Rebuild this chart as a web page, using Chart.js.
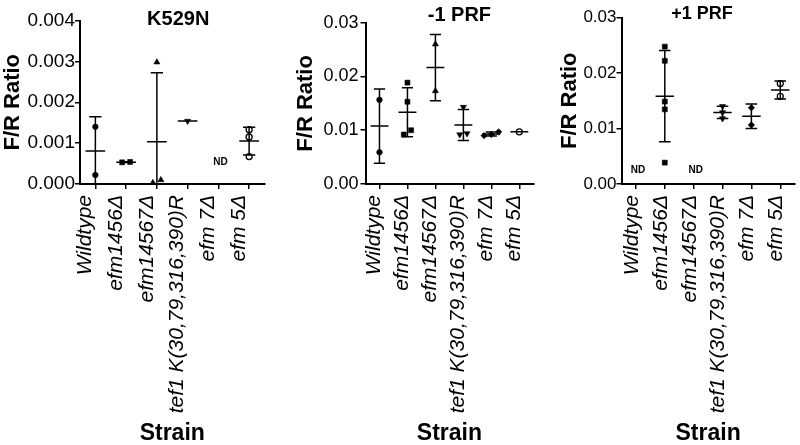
<!DOCTYPE html>
<html>
<head>
<meta charset="utf-8">
<script src="https://cdn.jsdelivr.net/npm/chart.js@4.4.1/dist/chart.umd.min.js"></script>
<style>
html,body{margin:0;padding:0;background:#fff;}
#wrap{position:relative;width:800px;height:445px;overflow:hidden;background:#fff;}
canvas{position:absolute;top:0;}
</style>
</head>
<body>
<div id="wrap">
<canvas id="c1" width="270" height="445" style="left:0px"></canvas>
<canvas id="c2" width="270" height="445" style="left:270px"></canvas>
<canvas id="c3" width="265" height="445" style="left:535px"></canvas>
</div>
<script>
// ---------- DATA ----------
const categories = ['Wildtype', 'efm1456Δ', 'efm14567Δ', 'tef1 K(30,79,316,390)R', 'efm 7Δ', 'efm 5Δ'];
const panelTitles = ['K529N', '-1 PRF', '+1 PRF'];
const yMaxes = [0.004, 0.03, 0.03];
const yStep = [0.001, 0.01, 0.01];

// F/R ratio replicate values per strain (empty = ND)
const k529nValues = [
  [0.00140, 0.00022],
  [0.00053, 0.00054],
  [0.00298, 0.00003, 0.00010],
  [0.00154],
  [],
  [0.00133, 0.00115, 0.00067]
];
const minus1Values = [
  [0.01565, 0.00590],
  [0.01885, 0.01530, 0.01000, 0.00920],
  [0.02600, 0.01730],
  [0.01430, 0.00940, 0.00920],
  [0.00970, 0.00900, 0.00920],
  [0.00970]
];
const plus1Values = [
  [],
  [0.02475, 0.02220, 0.01485, 0.01345, 0.00385],
  [],
  [0.01400, 0.01290, 0.01180],
  [0.01375, 0.01063],
  [0.01810, 0.01580]
];

// ---------- STYLE ----------
const FONT = '"Liberation Sans", Arial, Helvetica, sans-serif';
Chart.defaults.font.family = FONT;
Chart.defaults.color = '#000';

const MARKERS = [
  {style: 'circle',   rot: 0,   r: 2.8, fill: '#000'},
  {style: 'rect',     rot: 0,   r: 3.5, fill: '#000'},
  {style: 'triangle', rot: 0,   r: 3.5, fill: '#000'},
  {style: 'triangle', rot: 180, r: 3.5, fill: '#000'},
  {style: 'rectRot',  rot: 0,   r: 3.2, fill: '#000'},
  {style: 'circle',   rot: 0,   r: 3.0, fill: '#fff'}
];

const layouts = [
  {id: 'c1', yWidth: 80,   top: 20.5, right: 5.5, tickSize: 19, tickPad: 0, ytPad: 1.5,  titleDx: 6,  titleY: 19,   titleSize: 20, labelOffset: -10, ndDx: 2, ndRise: 22},
  {id: 'c2', yWidth: 95.5, top: 22.7, right: 6.7, tickSize: 18, tickPad: 2, ytPad: 24.5, titleDx: 10, titleY: 15.5, titleSize: 20, labelOffset: -5,  ndDx: 0, ndRise: 13},
  {id: 'c3', yWidth: 86.5, top: 17.5, right: 2.6, tickSize: 17, tickPad: 0, ytPad: 23.5, titleDx: -6, titleY: 14.3, titleSize: 18, labelOffset: -4,  ndDx: 2, ndRise: 13.3}
];

function mean(a) { return a.reduce((s, v) => s + v, 0) / a.length; }
function sd(a) {
  const m = mean(a);
  return Math.sqrt(a.reduce((s, v) => s + (v - m) * (v - m), 0) / (a.length - 1));
}

const panelText = {
  id: 'panelText',
  afterDraw(chart, args, o) {
    const {ctx, chartArea, scales} = chart;
    ctx.save();
    ctx.fillStyle = '#000';
    ctx.textAlign = 'center';
    ctx.textBaseline = 'middle';
    ctx.font = 'bold ' + o.titleSize + 'px ' + FONT;
    ctx.fillText(o.title, (chartArea.left + chartArea.right) / 2 + o.titleDx, o.titleY);
    ctx.font = 'bold 10px ' + FONT;
    o.values.forEach((vals, i) => {
      if (!vals.length) {
        ctx.fillText('ND', scales.x.getPixelForValue(i) + o.ndDx, chartArea.bottom - o.ndRise);
      }
    });
    ctx.restore();
  }
};

function buildChart(p, values, L) {
  const yMax = yMaxes[p];
  const thr = yMax * 0.03;
  const datasets = [];

  values.forEach((vals, i) => {
    const sorted = vals.map(v => v).sort((a, b) => a - b);
    const groups = [];
    sorted.forEach(v => {
      const g = groups[groups.length - 1];
      if (g && v - g[g.length - 1] < thr) g.push(v); else groups.push([v]);
    });
    const pts = [];
    groups.forEach(g => g.forEach((v, j) => pts.push({x: i + (j - (g.length - 1) / 2) * 0.26, y: v})));
    const mk = MARKERS[i];
    datasets.push({
      type: 'scatter',
      data: pts,
      pointStyle: mk.style,
      pointRotation: mk.rot,
      pointRadius: mk.r,
      pointBackgroundColor: mk.fill,
      pointBorderColor: '#000',
      pointBorderWidth: mk.fill === '#fff' ? 1.3 : 0.6,
      clip: false,
      order: 2
    });
  });

  const err = [];
  values.forEach((vals, i) => {
    if (!vals.length) return;
    const m = mean(vals);
    err.push({x: i - 0.32, y: m}, {x: i + 0.32, y: m}, {x: i, y: null});
    if (vals.length > 1) {
      const s = sd(vals);
      err.push({x: i, y: m - s}, {x: i, y: m + s}, {x: i, y: null});
      err.push({x: i - 0.2, y: m + s}, {x: i + 0.2, y: m + s}, {x: i, y: null});
      err.push({x: i - 0.2, y: m - s}, {x: i + 0.2, y: m - s}, {x: i, y: null});
    }
  });
  datasets.push({
    type: 'line',
    data: err,
    borderColor: '#000',
    borderWidth: 1.5,
    pointRadius: 0,
    spanGaps: false,
    fill: false,
    tension: 0,
    clip: {left: 10, right: 10, top: 10, bottom: 0},
    order: 1
  });

  const dec = p === 0 ? 3 : 2;

  return new Chart(document.getElementById(L.id), {
    type: 'scatter',
    data: {datasets},
    plugins: [panelText],
    options: {
      responsive: false,
      animation: false,
      devicePixelRatio: 1,
      events: [],
      layout: {padding: {top: L.top, right: L.right, left: 0, bottom: 0}},
      plugins: {
        legend: {display: false},
        tooltip: {enabled: false},
        panelText: {title: panelTitles[p], titleDx: L.titleDx, titleY: L.titleY, titleSize: L.titleSize, values, ndDx: L.ndDx, ndRise: L.ndRise}
      },
      scales: {
        x: {
          type: 'linear',
          min: -0.5,
          max: 5.5,
          afterBuildTicks(s) { s.ticks = categories.map((c, i) => ({value: i})); },
          afterFit(s) { s.height = 445 - 184; s.paddingLeft = 0; s.paddingRight = 0; },
          ticks: {
            autoSkip: false,
            minRotation: 90,
            maxRotation: 90,
            padding: 6,
            labelOffset: L.labelOffset,
            color: '#000',
            font: {family: FONT, size: 21, style: 'italic'},
            callback: (v) => categories[Math.round(v)]
          },
          grid: {drawOnChartArea: false, drawTicks: true, tickLength: 5, color: '#000', lineWidth: 1.5},
          border: {display: true, color: '#000', width: 2},
          title: {display: true, text: 'Strain', color: '#000', font: {family: FONT, size: 23, weight: 'bold', lineHeight: 1}, padding: {top: 0, bottom: 0}}
        },
        y: {
          type: 'linear',
          min: 0,
          max: yMax,
          afterFit(s) { s.width = L.yWidth; s.paddingTop = 0; s.paddingBottom = 0; },
          ticks: {
            stepSize: yStep[p],
            padding: L.tickPad,
            color: '#000',
            font: {family: FONT, size: L.tickSize},
            callback: (v) => v.toFixed(dec)
          },
          grid: {drawOnChartArea: false, drawTicks: true, tickLength: 5, color: '#000', lineWidth: 1.5},
          border: {display: true, color: '#000', width: 2},
          title: {display: true, text: 'F/R Ratio', color: '#000', font: {family: FONT, size: 22, weight: 'bold', lineHeight: 1}, padding: {top: L.ytPad, bottom: 0}}
        }
      }
    }
  });
}

buildChart(0, k529nValues, layouts[0]);
buildChart(1, minus1Values, layouts[1]);
buildChart(2, plus1Values, layouts[2]);
</script>
</body>
</html>
